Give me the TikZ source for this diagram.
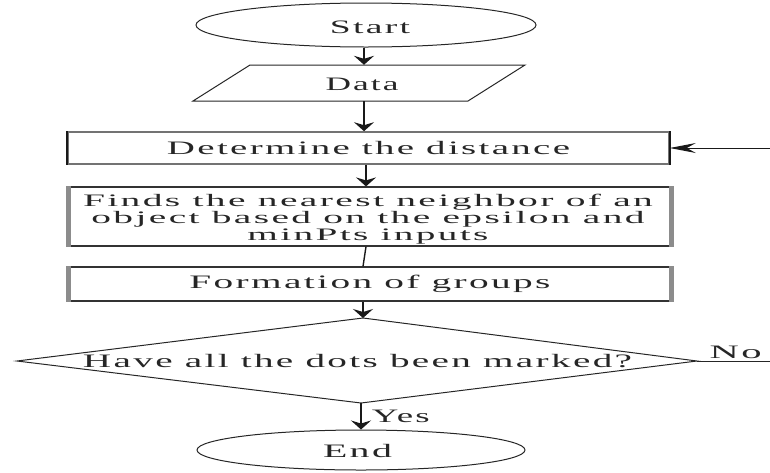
\documentclass[tikz,border=0pt]{standalone}
\usepackage{fontspec}
\usepackage{graphicx}
\setmainfont{Liberation Serif}[LetterSpace=6]
\usetikzlibrary{shapes.geometric,arrows.meta,calc}
\newcommand{\fitw}[2]{\resizebox{#1}{\height}{#2}}
\tikzset{
  lbl/.style={font=\fontsize{19}{19.5}\selectfont, text=black!85, inner sep=0pt},
  term/.style={ellipse, draw=black!85, line width=1pt, inner sep=0pt, lbl},
  procbox/.style={rectangle, draw=black!80, line width=1.2pt, inner sep=0pt, lbl},
  varrow/.style={draw=black!90, line width=1.6pt, -{Stealth[length=9pt,width=20pt,inset=3pt]}},
  harrow/.style={draw=black!90, line width=1pt, -{Stealth[length=26pt,width=10pt,inset=9pt]}},
  plainline/.style={draw=black!90, line width=1.4pt},
  thinline/.style={draw=black!85, line width=1pt},
  sidebar/.style={draw=black!45, line width=4.5pt},
  darkbar/.style={draw=black!90, line width=2.2pt},
}
\begin{document}
\begin{tikzpicture}[x=1pt,y=-1pt]
\useasboundingbox (0,0) rectangle (770,472);
% Start
\node[term, minimum width=340pt, minimum height=44pt] (start) at (366,25) {};
\node[lbl] (starttxt) at (370,27) {\fitw{80pt}{Start}};
% Data parallelogram
\node[lbl, minimum width=218pt, minimum height=36pt] (data) at (359,83) {};
\node[lbl] (datatxt) at (362,84) {\fitw{73pt}{Data}};
\draw[thinline] (250,65) -- (525,65) -- (468,101) -- (193,101) -- cycle;
% Determine
\node[procbox, draw=black!55, line width=1.6pt, minimum width=601pt, minimum height=32pt] (det) at (368.5,148) {\fitw{403pt}{Determine the distance}};
\draw[darkbar] (det.north west) -- (det.south west);
\draw[darkbar] (det.north east) -- (det.south east);
% Finds
\node[procbox, minimum width=602pt, minimum height=59pt] (fin) at (370,216.5) {};
\node[lbl, align=center, font=\fontsize{17.5}{16.8}\selectfont] (fintxt) at (368,219)
  {\fitw{570pt}{Finds the nearest neighbor of an}\\\fitw{553pt}{object based on the epsilon and}\\\fitw{241pt}{minPts inputs}};
\draw[sidebar] (fin.north west) -- (fin.south west);
\draw[sidebar] (fin.north east) -- (fin.south east);
% Formation
\node[procbox, minimum width=602pt, minimum height=34pt] (form) at (370,284) {\fitw{361pt}{Formation of groups}};
\draw[sidebar] (form.north west) -- (form.south west);
\draw[sidebar] (form.north east) -- (form.south east);
% Decision
\coordinate (dtop) at (363,318);
\coordinate (dbot) at (361,403);
\coordinate (dleft) at (17,361);
\coordinate (dright) at (697,361);
\draw[thinline] (dtop) -- (dright) -- (dbot) -- (dleft) -- cycle;
\node[lbl] (dq) at (357.5,361) {\fitw{549pt}{Have all the dots been marked?}};
% End
\node[term, minimum width=328pt, minimum height=40pt] (end) at (361,450) {};
\node[lbl] (endtxt) at (357.5,451) {\fitw{69pt}{End}};
% Connectors
\draw[varrow] (start.south -| 364,0) -- (data.north -| 364,0);
\draw[varrow] (data.south -| 364,0) -- (det.north -| 364,0);
\draw[varrow] (det.south -| 366,0) -- (fin.north -| 366,0);
\draw[plainline] (fin.south -| 366,0) -- (form.north -| 363,0);
\draw[varrow] (form.south -| 363,0) -- (dtop);
\draw[varrow] (dbot) -- (end.north -| dbot) node[lbl, midway, right=10pt] {\fitw{58pt}{Yes}};
\coordinate (nout) at (770,361);
\draw[thinline] (dright) -- (nout) node[lbl, pos=0.53, above=2pt] {\fitw{52pt}{No}};
\coordinate (lin) at (770,148);
\draw[harrow] (lin) -- (det.east);
\end{tikzpicture}
\end{document}
